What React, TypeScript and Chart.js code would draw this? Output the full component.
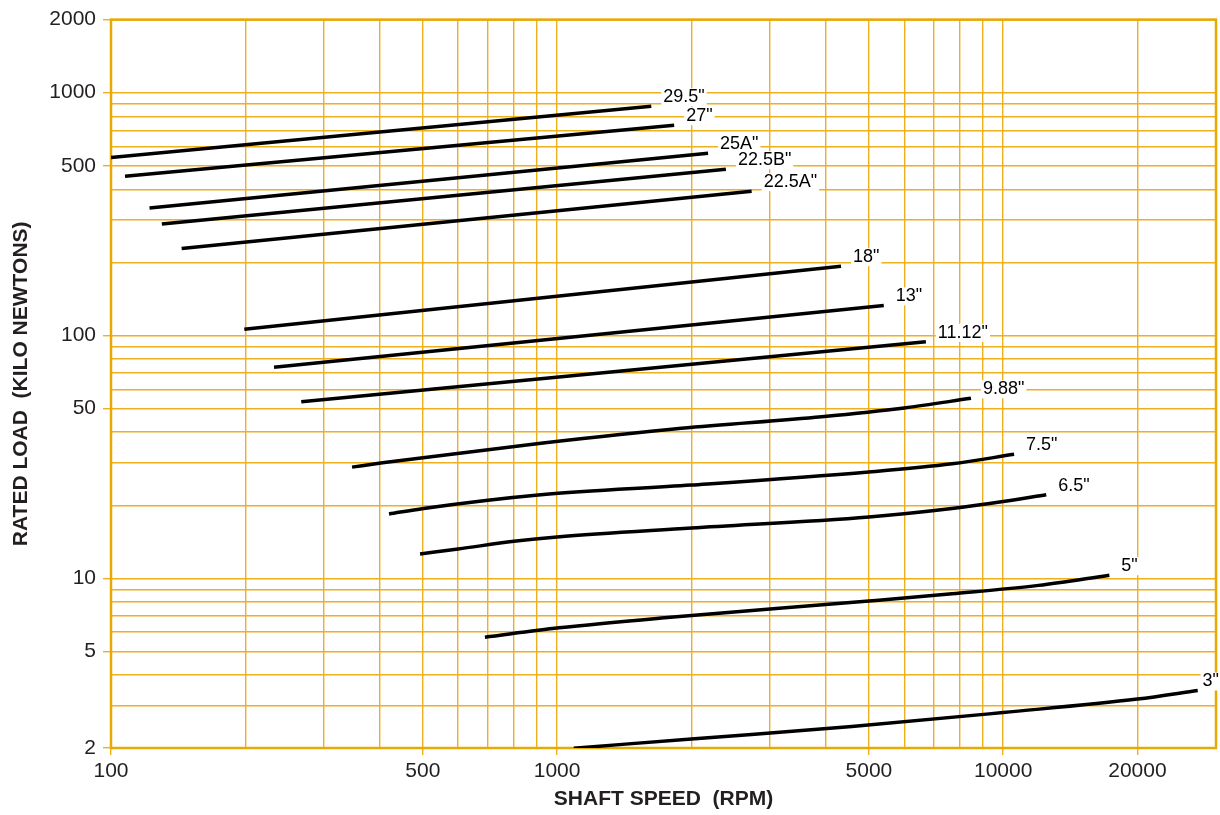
import React, { useEffect, useRef } from 'react';
import { Chart, registerables } from 'chart.js';

Chart.register(...registerables);

// ---- Data (shaft speed in RPM, rated load in kN) ----
const sizeLabels = ['29.5"', '27"', '25A"', '22.5B"', '22.5A"', '18"', '13"', '11.12"', '9.88"', '7.5"', '6.5"', '5"', '3"'];

const speed_29_5 = [100, 1626];
const load_29_5 = [541, 879];
const speed_27 = [107.5, 1830];
const load_27 = [453, 734];
const speed_25A = [122, 2180];
const load_25A = [335, 563];
const speed_22_5B = [130, 2390];
const load_22_5B = [288, 484];
const speed_22_5A = [144, 2730];
const load_22_5A = [228, 393];
const speed_18 = [199, 4330];
const load_18 = [106, 193];
const speed_13 = [232, 5400];
const load_13 = [74, 133];
const speed_11_12 = [267, 6710];
const load_11_12 = [53.4, 94.2];
const speed_9_88 = [347, 406, 920, 1900, 3920, 6000, 8470];
const load_9_88 = [28.7, 29.9, 36.0, 41.5, 46.3, 50.3, 55.1];
const speed_7_5 = [420, 502, 920, 2000, 5000, 7680, 10580];
const load_7_5 = [18.4, 19.4, 22.1, 24.2, 27.4, 29.6, 32.4];
const speed_6_5 = [493, 600, 800, 1000, 2000, 5000, 7680, 10000, 12490];
const load_6_5 = [12.6, 13.2, 14.2, 14.8, 16.1, 17.9, 19.4, 20.7, 22.1];
const speed_5 = [689, 1010, 1713, 5000, 7680, 12000, 17300];
const load_5 = [5.72, 6.25, 6.86, 8.06, 8.63, 9.35, 10.3];
const speed_3 = [1090, 1400, 2000, 4580, 10000, 20000, 27300];
const load_3 = [1.995, 2.07, 2.18, 2.45, 2.8, 3.18, 3.45];

const allSpeeds = [speed_29_5, speed_27, speed_25A, speed_22_5B, speed_22_5A, speed_18, speed_13, speed_11_12, speed_9_88, speed_7_5, speed_6_5, speed_5, speed_3];
const allLoads = [load_29_5, load_27, load_25A, load_22_5B, load_22_5A, load_18, load_13, load_11_12, load_9_88, load_7_5, load_6_5, load_5, load_3];
const curvedSeries = [false, false, false, false, false, false, false, false, true, true, true, true, true];

// ---- Axes ----
const xGridValues = [100, 200, 300, 400, 500, 600, 700, 800, 900, 1000, 2000, 3000, 4000, 5000, 6000, 7000, 8000, 9000, 10000, 20000, 30000];
const xTickLabels = [100, 500, 1000, 5000, 10000, 20000];
const yGridValues = [2, 3, 4, 5, 6, 7, 8, 9, 10, 20, 30, 40, 50, 60, 70, 80, 90, 100, 200, 300, 400, 500, 600, 700, 800, 900, 1000, 2000];
const yTickLabels = [2, 5, 10, 50, 100, 500, 1000, 2000];

const GRID = '#efb01e';
const FRAME = '#e8a900';
const TEXT = '#231f20';
const FONT = "'Liberation Sans', Arial, Helvetica, sans-serif";

const framePlugin = {
  id: 'frame',
  beforeDatasetsDraw(chart: any) {
    const { ctx, chartArea } = chart;
    ctx.save();
    ctx.strokeStyle = FRAME;
    ctx.lineWidth = 2.5;
    ctx.strokeRect(chartArea.left, chartArea.top, chartArea.right - chartArea.left, chartArea.bottom - chartArea.top);
    ctx.restore();
  },
};

const curveLabelPlugin = {
  id: 'curveLabels',
  afterDatasetsDraw(chart: any) {
    const { ctx } = chart;
    ctx.save();
    ctx.font = `18px ${FONT}`;
    ctx.textBaseline = 'middle';
    ctx.textAlign = 'left';
    chart.data.datasets.forEach((ds: any, i: number) => {
      const meta = chart.getDatasetMeta(i);
      const pt = meta.data[meta.data.length - 1];
      if (!pt) return;
      const w = ctx.measureText(ds.label).width;
      const tx = Math.min(pt.x + 12, chart.width - w - 1);
      const ty = pt.y - 9;
      ctx.fillStyle = '#ffffff';
      ctx.fillRect(tx - 2, ty - 9, w + 4, 18);
      ctx.fillStyle = '#000000';
      ctx.fillText(ds.label, tx, ty);
    });
    ctx.restore();
  },
};

export default function App() {
  const canvasRef = useRef<HTMLCanvasElement | null>(null);

  useEffect(() => {
    document.body.style.margin = '0';
    const canvas = canvasRef.current;
    if (!canvas) return;

    const datasets = sizeLabels.map((label, i) => ({
      label,
      data: allSpeeds[i].map((x, j) => ({ x, y: allLoads[i][j] })),
      borderColor: '#000000',
      backgroundColor: '#000000',
      borderWidth: 3.5,
      pointRadius: 0,
      pointHoverRadius: 0,
      fill: false,
      borderCapStyle: 'butt' as const,
      cubicInterpolationMode: curvedSeries[i] ? ('monotone' as const) : ('default' as const),
      tension: 0,
    }));

    const chart = new Chart(canvas, {
      type: 'line',
      data: { datasets },
      plugins: [framePlugin, curveLabelPlugin],
      options: {
        animation: false,
        responsive: false,
        maintainAspectRatio: false,
        layout: { padding: { left: 0, top: 18, right: 3, bottom: 0 } },
        plugins: {
          legend: { display: false },
          tooltip: { enabled: false },
        },
        scales: {
          x: {
            type: 'logarithmic',
            min: 100,
            max: 30000,
            afterBuildTicks: (scale: any) => {
              scale.ticks = xGridValues.map((v) => ({ value: v }));
            },
            afterFit: (scale: any) => {
              scale.height = 67;
            },
            border: { display: false },
            grid: {
              color: GRID,
              lineWidth: 1.4,
              drawTicks: true,
              tickLength: 7,
              tickColor: (ctx: any) => (ctx.tick && xTickLabels.includes(ctx.tick.value) ? GRID : 'rgba(0,0,0,0)'),
            },
            ticks: {
              autoSkip: false,
              maxRotation: 0,
              minRotation: 0,
              padding: 4,
              color: TEXT,
              font: { family: FONT, size: 21 },
              callback: (value: any) => (xTickLabels.includes(Number(value)) ? String(value) : ''),
            },
            title: {
              display: true,
              text: 'SHAFT SPEED  (RPM)',
              color: TEXT,
              font: { family: FONT, size: 21, weight: 'bold' },
              padding: { top: 0, bottom: 3 },
            },
          },
          y: {
            type: 'logarithmic',
            min: 2,
            max: 2000,
            afterBuildTicks: (scale: any) => {
              scale.ticks = yGridValues.map((v) => ({ value: v }));
            },
            afterFit: (scale: any) => {
              scale.width = 111;
            },
            border: { display: false },
            grid: {
              color: GRID,
              lineWidth: 1.4,
              drawTicks: true,
              tickLength: 8,
              tickColor: (ctx: any) => (ctx.tick && yTickLabels.includes(ctx.tick.value) ? GRID : 'rgba(0,0,0,0)'),
            },
            ticks: {
              autoSkip: false,
              padding: 7,
              color: TEXT,
              font: { family: FONT, size: 21 },
              callback: (value: any) => (yTickLabels.includes(Number(value)) ? String(value) : ''),
            },
            title: {
              display: true,
              text: 'RATED LOAD  (KILO NEWTONS)',
              color: TEXT,
              font: { family: FONT, size: 21, weight: 'bold' },
              padding: { top: 9, bottom: 0 },
            },
          },
        },
      },
    });

    return () => {
      chart.destroy();
    };
  }, []);

  return (
    <div style={{ position: 'absolute', left: 0, top: 0, width: 1220, height: 815, background: '#ffffff' }}>
      <canvas ref={canvasRef} width={1220} height={815} style={{ display: 'block' }} />
    </div>
  );
}
